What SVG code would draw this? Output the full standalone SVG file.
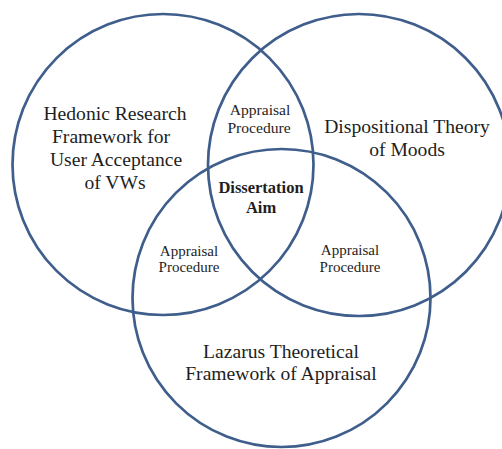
<svg xmlns="http://www.w3.org/2000/svg" width="502" height="449" viewBox="0 0 502 449">
  <style>
    .ring { fill: none; stroke: #3f5e8c; stroke-width: 2.7; }
    text { font-family: "Liberation Serif", "Times New Roman", Times, serif; fill: #1e1e1e; text-anchor: middle; }
    .big { font-size: 19.6px; }
    .small { font-size: 15px; }
    .small-top { font-size: 15.6px; }
    .aim { font-size: 16.5px; font-weight: bold; }
  </style>
  <rect width="502" height="449" fill="#ffffff"/>

  <!-- three overlapping sets -->
  <g id="hedonic">
    <circle class="ring" cx="163" cy="164.5" r="150.5"/>
    <text class="big" x="115" y="120">Hedonic Research</text>
    <text class="big" x="111" y="143">Framework for</text>
    <text class="big" x="116" y="166">User Acceptance</text>
    <text class="big" x="115" y="189">of VWs</text>
  </g>

  <g id="dispositional">
    <circle class="ring" cx="359" cy="165" r="151"/>
    <text class="big" x="407" y="133">Dispositional  Theory</text>
    <text class="big" x="407" y="156">of Moods</text>
  </g>

  <g id="lazarus">
    <circle class="ring" cx="281.5" cy="298" r="149"/>
    <text class="big" x="281" y="358">Lazarus Theoretical</text>
    <text class="big" x="281" y="380">Framework of Appraisal</text>
  </g>

  <!-- pairwise overlaps -->
  <g id="appraisal-top">
    <text class="small-top" x="260" y="115">Appraisal</text>
    <text class="small-top" x="259" y="133">Procedure</text>
  </g>

  <g id="appraisal-left">
    <text class="small" x="189" y="256">Appraisal</text>
    <text class="small" x="189" y="272">Procedure</text>
  </g>

  <g id="appraisal-right">
    <text class="small" x="350" y="255">Appraisal</text>
    <text class="small" x="350" y="272">Procedure</text>
  </g>

  <!-- centre: all three sets -->
  <g id="aim">
    <text class="aim" x="261" y="193">Dissertation</text>
    <text class="aim" x="261" y="213">Aim</text>
  </g>

  <g id="connectors"/>
</svg>
